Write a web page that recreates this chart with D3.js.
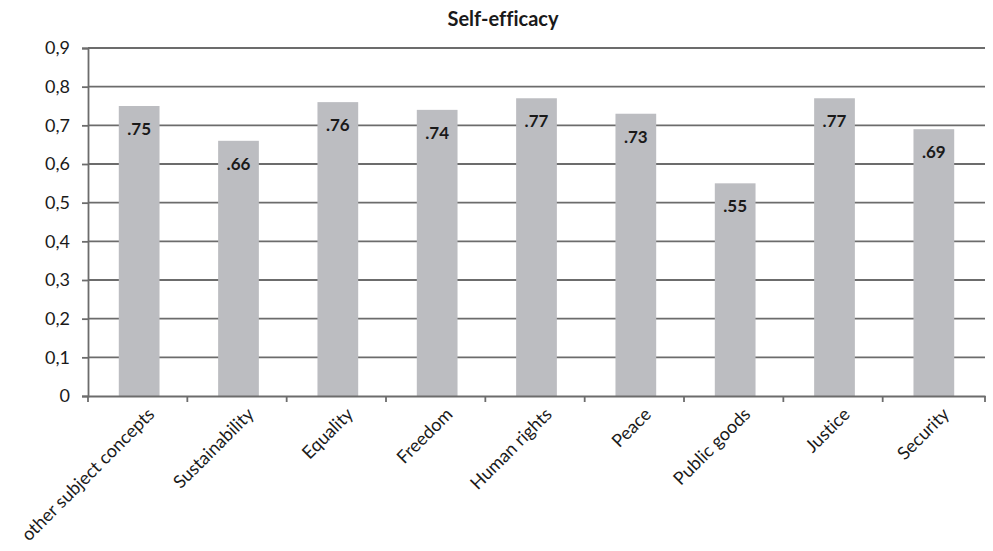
<!DOCTYPE html>
<html>
<head>
<meta charset="utf-8">
<script src="https://cdn.jsdelivr.net/npm/d3@7"></script>
<style>
  body { margin: 0; background: #fff; }
  text { font-family: "Lato", "Open Sans", sans-serif; fill: #1a1a1a; font-variant-ligatures: none; }
</style>
</head>
<body>
<svg width="993" height="551"></svg>
<script>
// categories and values
var categories = ["other subject concepts", "Sustainability", "Equality", "Freedom",
  "Human rights", "Peace", "Public goods", "Justice", "Security"];
var values = [0.75, 0.66, 0.76, 0.74, 0.77, 0.73, 0.55, 0.77, 0.69];
var yTicks = [0, 0.1, 0.2, 0.3, 0.4, 0.5, 0.6, 0.7, 0.8, 0.9];

var svg = d3.select("svg");
var mLeft = 88, mRight = 985, mTop = 48, mBottom = 396;

var x = d3.scaleBand()
  .domain(categories)
  .range([mLeft, mRight])
  .paddingInner(0.59)
  .paddingOuter(0.31);

var y = d3.scaleLinear().domain([0, 0.9]).range([mBottom, mTop]);

// gridlines
svg.append("g")
  .selectAll("line")
  .data(yTicks.slice(1))
  .enter().append("line")
  .attr("x1", mLeft).attr("x2", mRight)
  .attr("y1", function(d) { return y(d); })
  .attr("y2", function(d) { return y(d); })
  .attr("stroke", "#6c6c6c")
  .attr("stroke-width", 1.8);

// y axis
var yAxis = svg.append("g")
  .attr("transform", "translate(" + mLeft + ",0)")
  .call(d3.axisLeft(y).tickValues(yTicks).tickSize(6).tickPadding(12)
    .tickFormat(function(d) { return d === 0 ? "0" : d3.format(".1f")(d).replace(".", ","); }));
yAxis.select(".domain").attr("stroke", "#6c6c6c").attr("stroke-width", 1.8);
yAxis.selectAll(".tick line").attr("stroke", "#6c6c6c").attr("stroke-width", 1.8);
yAxis.selectAll("text").style("font-size", "18px").attr("fill", "#1a1a1a");

// bars
svg.append("g")
  .selectAll("rect")
  .data(values)
  .enter().append("rect")
  .attr("x", function(d, i) { return x(categories[i]); })
  .attr("y", function(d) { return y(d); })
  .attr("width", x.bandwidth())
  .attr("height", function(d) { return mBottom - y(d); })
  .attr("fill", "#bcbdc1");

// value labels
svg.append("g")
  .selectAll("text")
  .data(values)
  .enter().append("text")
  .attr("x", function(d, i) { return x(categories[i]) + x.bandwidth() / 2; })
  .attr("y", function(d) { return y(d) + 29; })
  .attr("text-anchor", "middle")
  .style("font-size", "17px")
  .style("font-weight", "bold")
  .text(function(d) { return d3.format(".2f")(d).replace(/^0/, ""); });

// x axis
var xAxis = svg.append("g")
  .attr("transform", "translate(0," + mBottom + ")")
  .call(d3.axisBottom(x).tickSize(0).tickPadding(0));
xAxis.select(".domain").attr("stroke", "#6c6c6c").attr("stroke-width", 1.8);
xAxis.selectAll(".tick line").remove();
xAxis.selectAll("text")
  .style("font-size", "18px")
  .attr("fill", "#1a1a1a")
  .attr("text-anchor", "end")
  .attr("transform", "translate(12,15) rotate(-45)")
  .attr("dy", "0.35em");

// x ticks at band edges
var edges = categories.map(function(c) { return x(c) - x.step() * x.paddingOuter(); });
edges.push(mRight);
svg.append("g")
  .selectAll("line")
  .data(edges)
  .enter().append("line")
  .attr("x1", function(d) { return d; }).attr("x2", function(d) { return d; })
  .attr("y1", mBottom).attr("y2", mBottom + 6)
  .attr("stroke", "#6c6c6c")
  .attr("stroke-width", 1.8);

// title
svg.append("text")
  .attr("x", 503).attr("y", 26)
  .attr("text-anchor", "middle")
  .style("font-size", "20px")
  .style("font-weight", "bold")
  .text("Self-efficacy");
</script>
</body>
</html>
